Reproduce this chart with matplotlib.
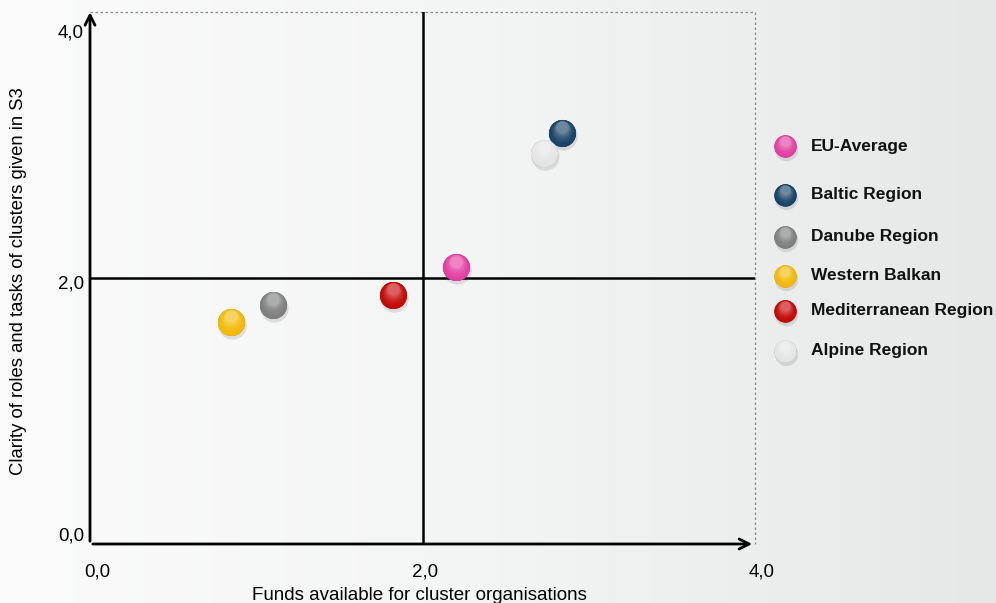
import numpy as np
import matplotlib
matplotlib.use("Agg")
import matplotlib.pyplot as plt
from matplotlib.transforms import offset_copy

plt.rcParams['font.family'] = ['Liberation Sans', 'DejaVu Sans']

# data
regions = ["EU-Average", "Baltic Region", "Danube Region", "Western Balkan",
           "Mediterranean Region", "Alpine Region"]
funds   = [2.20, 2.84, 1.10, 0.85, 1.82, 2.73]
clarity = [2.08, 3.09, 1.80, 1.67, 1.87, 2.94]
colors  = ["#e2399f", "#123d62", "#7c7c7c", "#f2b700", "#c30000", "#e4e4e4"]
ticks   = [0, 2, 4]
tick_labels = ["0,0", "2,0", "4,0"]

fig = plt.figure(figsize=(9.96, 6.03), dpi=100)

# background gradient
bg = fig.add_axes([0, 0, 1, 1], zorder=-10)
grad = np.linspace(0, 1, 256)[None, :]
bg.imshow(grad, aspect='auto', extent=[0, 1, 0, 1],
          cmap=matplotlib.colors.LinearSegmentedColormap.from_list(
              "bg", ["#fbfbfb", "#f3f4f4", "#e6e7e7"]))
bg.axis('off')

ax = fig.add_axes([90/996, 59/603, 665/996, 532/603])
ax.set_xlim(0, 4)
ax.set_ylim(0, 4)
ax.patch.set_alpha(0)
for s in ax.spines.values():
    s.set_visible(False)
ax.set_xticks([])
ax.set_yticks([])


def lighten(c, f):
    c = np.array(matplotlib.colors.to_rgb(c))
    return tuple(c + (1 - c) * f)


def darken(c, f):
    c = np.array(matplotlib.colors.to_rgb(c))
    return tuple(c * (1 - f))


def sphere(a, x, y, c, d=20, **kw):
    # d = diameter in points
    a.scatter([x], [y], s=(d*1.05)**2, color="#000000", alpha=0.10, lw=0,
              transform=offset_copy(a.transData, fig, x=1, y=-3, units='dots'),
              zorder=3, **kw)
    a.scatter([x], [y], s=d**2, color=darken(c, 0.3), lw=0, zorder=4, **kw)
    for i, k in enumerate(np.linspace(0, 1, 8)):
        dd = d*(1 - 0.55*k)
        a.scatter([x], [y], s=dd**2, color=lighten(c, 0.03 + 0.35*k**2), lw=0,
                  transform=offset_copy(a.transData, fig, x=0, y=k*d*0.3, units='dots'),
                  zorder=5+i, **kw)


# quadrant lines
ax.plot([2, 2], [0, 4], color='black', lw=1.8, zorder=2)
ax.plot([0, 4], [2, 2], color='black', lw=1.8, zorder=2)
# dashed frame
ax.plot([0, 4, 4], [4, 4, 0], color='#888888', lw=0.9, ls=(0, (2, 2)), zorder=1,
        clip_on=False)
# axes with arrows
ax.annotate("", xy=(0, 4.02), xytext=(0, 0),
            arrowprops=dict(arrowstyle='->', lw=2, color='black', mutation_scale=18),
            annotation_clip=False)
ax.annotate("", xy=(4.0, 0), xytext=(0, 0),
            arrowprops=dict(arrowstyle='->', lw=2, color='black', mutation_scale=18),
            annotation_clip=False)

# tick labels
xoff = [7, 3, 7]
for t, lab, o in zip(ticks, tick_labels, xoff):
    ax.annotate(lab, xy=(t, 0), xytext=(o, -28), textcoords='offset pixels',
                ha='center', va='center', fontsize=13.5, annotation_clip=False)
yoff = [8, -6, -21]
for t, lab, o in zip(ticks, tick_labels, yoff):
    ax.annotate(lab, xy=(0, t), xytext=(-6, o), textcoords='offset pixels',
                ha='right', va='center', fontsize=13.5, annotation_clip=False)

fig.text(419/996, 1 - 595/603, "Funds available for cluster organisations",
         ha='center', va='center', fontsize=13.5)
fig.text(19/996, 1 - 281/603, "Clarity of roles and tasks of clusters given in S3",
         ha='center', va='center', fontsize=13.3, rotation=90)

for x, y, c in zip(funds, clarity, colors):
    sphere(ax, x, y, c, d=19.5, clip_on=False)

# legend
lg = fig.add_axes([0, 0, 1, 1], zorder=5)
lg.set_xlim(0, 996)
lg.set_ylim(603, 0)
lg.axis('off')
leg_y = [146, 195, 237, 276, 311, 351]
for yy, lab, c in zip(leg_y, regions, colors):
    sphere(lg, 785, yy, c, d=16)
    lg.text(811, yy, lab, ha='left', va='center', fontsize=12.5, fontweight='bold',
            color='#111111')

fig.savefig("out.png", dpi=100)
